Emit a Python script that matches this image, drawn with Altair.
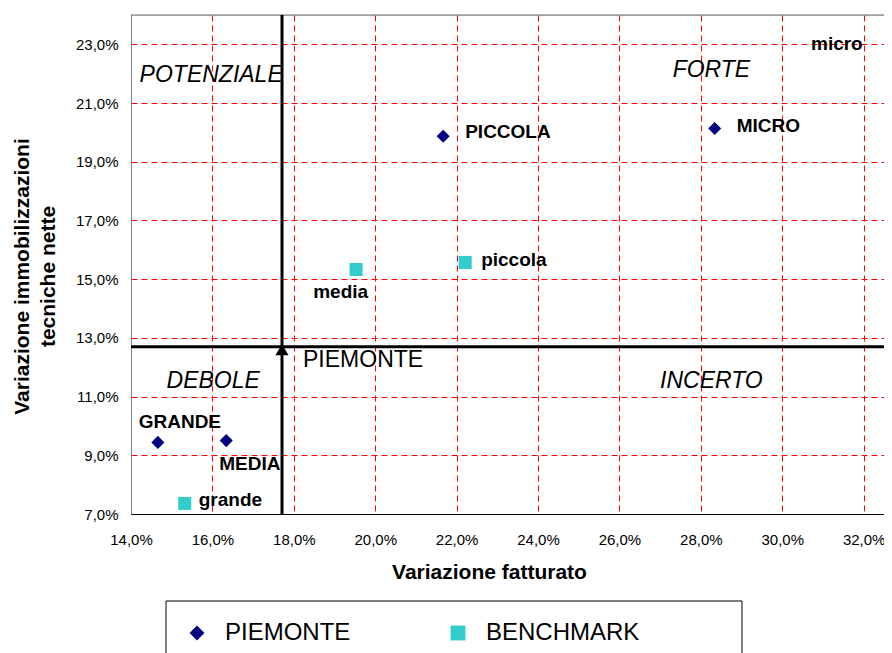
import altair as alt
import pandas as pd

FONT = "Liberation Sans"

# ---- data (percent values) ----
series_names = ["PIEMONTE", "BENCHMARK"]

piem_names = ["GRANDE", "MEDIA", "PICCOLA", "MICRO"]
piem_fatt = [14.66, 16.34, 21.67, 28.34]
piem_immob = [9.44, 9.50, 19.87, 20.13]

bench_names = ["grande", "media", "piccola", "micro"]
bench_fatt = [15.32, 19.53, 22.21, 32.69]
bench_immob = [7.36, 15.33, 15.57, 23.18]

total_name = ["PIEMONTE"]
total_fatt = [17.71]
total_immob = [12.70]

quad_names = ["POTENZIALE", "FORTE", "DEBOLE", "INCERTO"]
quad_x = [15.97, 28.26, 16.02, 28.26]
quad_y = [21.94, 22.11, 11.53, 11.53]

x_ticks = [14, 16, 18, 20, 22, 24, 26, 28, 30, 32]
y_ticks = [7, 9, 11, 13, 15, 17, 19, 21, 23]

x_title = "Variazione fatturato"
y_title = ["Variazione immobilizzazioni", "tecniche nette"]

# ---- label placement (styling, kept apart from data) ----
label_style = {
    "PICCOLA": dict(dx=22, dy=-4, align="left"),
    "MICRO": dict(dx=22, dy=-3, align="left"),
    "GRANDE": dict(dx=22, dy=-20, align="center"),
    "MEDIA": dict(dx=-7, dy=23, align="left"),
    "micro": dict(dx=-29, dy=5, align="right"),
    "piccola": dict(dx=16, dy=-2, align="left"),
    "media": dict(dx=12, dy=23, align="right"),
    "grande": dict(dx=14, dy=-3, align="left"),
}

pts = pd.DataFrame({
    "name": piem_names + bench_names,
    "fatt": piem_fatt + bench_fatt,
    "immob": piem_immob + bench_immob,
    "serie": [series_names[0]] * len(piem_names) + [series_names[1]] * len(bench_names),
})
tot = pd.DataFrame({"name": total_name, "fatt": total_fatt, "immob": total_immob})
quad = pd.DataFrame({"name": quad_names, "fatt": quad_x, "immob": quad_y})

label_expr = "replace(format(datum.value, '.1f'), '.', ',') + '%'"

x_axis = alt.Axis(
    values=x_ticks, labelExpr=label_expr, ticks=False, grid=True,
    gridColor="#FF0000", gridDash=[6, 4], gridWidth=1,
    domainColor="black", domainWidth=1,
    labelFont=FONT, labelFontSize=15, labelColor="black", labelPadding=18,
    labelFlush=False, labelOverlap=False,
    title=x_title, titleFont=FONT, titleFontSize=21, titleFontWeight="bold",
    titleColor="black", titleX=358, titleY=58, titleBaseline="middle",
    titleAlign="center", titleAnchor="start",
)
y_axis = alt.Axis(
    values=y_ticks, labelExpr=label_expr, ticks=False, grid=True,
    gridColor="#FF0000", gridDash=[6, 4], gridWidth=1,
    domainColor="#808080", domainWidth=1,
    labelFont=FONT, labelFontSize=15, labelColor="black", labelPadding=13,
    labelFlush=False, labelOverlap=False,
    title=y_title, titleFont=FONT, titleFontSize=21, titleFontWeight="bold",
    titleColor="black", titleX=-109, titleY=261, titleAngle=270,
    titleBaseline="middle", titleAlign="center", titleLineHeight=26,
)

# plot area: left edge at 131 px, right edge at 884 px (window edge minus margin)
xs = alt.Scale(domain=[14, 32.50], nice=False, zero=False)
ys = alt.Scale(domain=[7, 24], nice=False, zero=False)

def X():
    return alt.X("fatt:Q", scale=xs, axis=x_axis)

def Y():
    return alt.Y("immob:Q", scale=ys, axis=y_axis)

legend = alt.Legend(
    title=None, orient="none", legendX=54, legendY=606, direction="horizontal",
    symbolSize=220, symbolStrokeColor="black", symbolStrokeWidth=1,
    labelFont=FONT, labelFontSize=24, labelColor="black", labelOffset=16,
    columnPadding=95, padding=0, symbolOpacity=1,
)

top_border = alt.Chart(alt.Data(values=[{"a": 1}])).mark_rule(
    color="#666666", strokeWidth=1
).encode(y=alt.value(0))

vline = alt.Chart(tot).mark_rule(color="black", strokeWidth=3).encode(x=X())
hline = alt.Chart(tot).mark_rule(color="black", strokeWidth=3).encode(y=Y())

tri = alt.Chart(tot).mark_point(
    shape="triangle-up", filled=True, color="black", size=170, opacity=1, yOffset=3
).encode(x=X(), y=Y())

tot_lbl = alt.Chart(tot).mark_text(
    align="left", baseline="middle", dx=21, dy=13, font=FONT, fontSize=23, color="black"
).encode(x=X(), y=Y(), text="name:N")

points = alt.Chart(pts).mark_point(filled=True, size=170, opacity=1).encode(
    x=X(), y=Y(),
    color=alt.Color("serie:N", scale=alt.Scale(domain=series_names, range=["#000080", "#33CCCC"]), legend=legend),
    shape=alt.Shape("serie:N", scale=alt.Scale(domain=series_names, range=["diamond", "square"]), legend=legend),
)

label_layers = []
for n, st in label_style.items():
    label_layers.append(
        alt.Chart(pts).transform_filter(alt.datum.name == n).mark_text(
            align=st["align"], baseline="middle", dx=st["dx"], dy=st["dy"],
            font=FONT, fontSize=19, fontWeight="bold", color="black",
        ).encode(x=X(), y=Y(), text="name:N")
    )

quad_lbl = alt.Chart(quad).mark_text(
    align="center", baseline="middle", font=FONT, fontSize=23,
    fontStyle="italic", color="black",
).encode(x=X(), y=Y(), text="name:N")

frame = alt.Chart(alt.Data(values=[{"a": 1}])).mark_rect(
    fillOpacity=0, stroke="black", strokeWidth=1
).encode(x=alt.value(35), x2=alt.value(611), y=alt.value(586), y2=alt.value(700))

chart = alt.layer(
    top_border, vline, hline, points, tri, tot_lbl, quad_lbl, *label_layers, frame
).properties(
    width=753, height=499,
    autosize=alt.AutoSizeParams(type="none"),
    padding={"left": 123, "top": 7, "right": 0, "bottom": 139},
).configure_view(
    strokeOpacity=0
).configure(background="white")

chart.save("out.html", embed_options={"renderer": "svg", "actions": False})
